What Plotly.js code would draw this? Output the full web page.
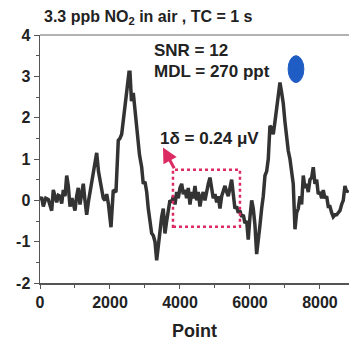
<!DOCTYPE html>
<html><head><meta charset="utf-8">
<script src="https://cdn.plot.ly/plotly-3.0.1.min.js"></script>
<style>html,body{margin:0;padding:0;background:#fff}#c{width:349px;height:343px}</style>
</head><body><div id="c"></div>
<script>
const points = [0,47,94,165,237,285,334,380,430,477,524,571,620,666,715,763,809,857,914,957,1000,1047,1094,1143,1190,1237,1285,1334,1380,1429,1476,1523,1570,1620,1671,1717,1763,1809,1857,1906,1957,2029,2094,2171,2237,2285,2334,2380,2430,2477,2543,2571,2614,2666,2714,2763,2800,2843,2906,2951,3000,3049,3094,3143,3191,3237,3286,3334,3380,3429,3477,3523,3571,3620,3666,3714,3763,3809,3857,3906,3951,4000,4049,4094,4143,4191,4237,4286,4334,4380,4429,4477,4523,4571,4620,4666,4714,4763,4809,4857,4906,4951,5000,5049,5094,5143,5191,5237,5286,5334,5380,5429,5477,5523,5571,5620,5666,5714,5763,5809,5857,5906,5951,6000,6049,6094,6143,6191,6237,6286,6334,6380,6429,6477,6523,6571,6620,6666,6714,6763,6809,6857,6906,6951,7000,7049,7094,7143,7191,7237,7286,7334,7380,7429,7477,7523,7571,7620,7666,7714,7763,7809,7857,7906,7951,8000,8049,8094,8143,8191,8237,8286,8334,8380,8429,8477,8523,8571,8620,8666,8714,8763,8809];
const signal = [0,0.08,-0.15,0.05,0.02,-0.12,-0.25,0.25,0.05,-0.05,0.12,0.1,-0.08,0.25,0.1,0.6,0.35,-0.15,0.05,-0.12,-0.25,0.1,0.3,-0.1,0.15,0.4,0.0,-0.35,-0.05,0.2,0.35,0.65,0.9,1.15,0.7,0.45,0.25,0.05,0,0.15,-0.1,-0.65,0.25,0.2,1.45,1.5,1.6,1.9,2.2,2.6,3.1,3.1,2.4,2.6,2.2,1.8,1.3,1.1,0.8,0.4,0.45,0.2,-0.2,-0.5,-0.8,-0.85,-1.0,-1.45,-1.1,-0.6,-0.4,-0.2,-0.8,-0.5,-0.3,0,-0.05,0.1,-0.1,0.2,0.05,0.3,0.4,0.15,0.25,0.05,0.3,-0.1,0.2,0.05,0.35,0,0.2,-0.15,0.1,0.2,0,0.25,0.4,0.55,0.2,0.05,0.15,-0.05,0.1,-0.2,0.1,0.2,0.35,0.2,0.1,0.3,0.5,0.15,-0.2,-0.15,-0.3,-0.25,-0.4,-0.35,-0.55,-0.5,-0.95,-0.4,0,-0.2,-0.6,-1.3,-1.0,-0.6,-0.2,0.1,0.6,0.7,1.0,1.8,1.75,1.6,1.9,2.2,2.5,2.85,2.6,2.35,1.9,1.45,1.2,1.0,0.7,0.4,-0.7,-0.3,-0.2,0.1,-0.1,0.6,0.3,0.4,0.2,0.5,0.55,0.8,0.4,0.5,0.15,0.2,0.05,0.25,0.05,0.1,-0.15,-0.15,-0.3,-0.4,-0.35,-0.35,-0.3,-0.25,-0.1,0,0.35,0.2,0.25];
const xTicks = [0,2000,4000,6000,8000];
const yTicks = [-2,-1,0,1,2,3,4];
const noiseBox = {x0:3800, x1:5714, y0:-0.64, y1:0.74};

const F = 'Liberation Sans, Arial, sans-serif';
const pink = '#dc2a62';
const trace = {x: points, y: signal, type:'scatter', mode:'lines',
  line:{color:'#333333', width:3.5}, hoverinfo:'skip'};
const layout = {
  width:349, height:343, margin:{l:40,r:0,t:35,b:60},
  paper_bgcolor:'#fff', plot_bgcolor:'#fff', showlegend:false,
  font:{family:F, color:'#222'},
  xaxis:{range:[0,8830], tickvals:xTicks, ticktext:xTicks.map(String), ticks:'outside', ticklen:4, tickcolor:'#555',
    minor:{dtick:1000, tick0:0, ticks:'outside', ticklen:3, tickcolor:'#555'},
    showline:true, linecolor:'#555', linewidth:1.5, showgrid:false, zeroline:false,
    tickfont:{family:F, size:16, color:'#222', weight:'bold'},
    title:{text:'<b>Point</b>', font:{family:F, size:18, color:'#222'}, standoff:14}},
  yaxis:{range:[-2,4], tickvals:yTicks, ticktext:yTicks.map(String), ticks:'outside', ticklen:5, tickcolor:'#555',
    minor:{dtick:0.5, tick0:0, ticks:'outside', ticklen:3, tickcolor:'#555'},
    showline:true, linecolor:'#555', linewidth:1.5, showgrid:false, zeroline:false,
    tickfont:{family:F, size:16, color:'#222', weight:'bold'}},
  shapes:[
    {type:'line', xref:'paper', yref:'paper', x0:0, x1:1, y0:1, y1:1, line:{color:'#999', width:1.5}},
    {type:'rect', xref:'x', yref:'y', x0:noiseBox.x0, x1:noiseBox.x1, y0:noiseBox.y0, y1:noiseBox.y1,
      line:{color:pink, width:2.5, dash:'dot'}},
    {type:'circle', xref:'x', yref:'y', x0:7090, x1:7540, y0:2.85, y1:3.5, fillcolor:'#1f5cc4', line:{color:'#1f5cc4', width:1}}
  ],
  annotations:[
    {xref:'paper', yref:'paper', x:0.006, y:1.069, xanchor:'left', yanchor:'middle', showarrow:false,
      text:'<b>3.3 ppb NO<sub>2</sub> in air , TC = 1 s</b>', font:{family:F, size:16, color:'#222'}},
    {xref:'x', yref:'y', x:3200, y:3.62, xanchor:'left', yanchor:'middle', showarrow:false,
      text:'<b>SNR = 12</b>', font:{family:F, size:17, color:'#222'}},
    {xref:'x', yref:'y', x:3200, y:3.12, xanchor:'left', yanchor:'middle', showarrow:false,
      text:'<b>MDL = 270 ppt</b>', font:{family:F, size:17, color:'#222'}},
    {xref:'x', yref:'y', x:3371, y:1.49, xanchor:'left', yanchor:'middle', showarrow:false,
      text:'<b>1δ = 0.24 μV</b>', font:{family:F, size:17, color:'#222'}},
    {xref:'x', yref:'y', x:3514, y:1.28, axref:'x', ayref:'y', ax:3857, ay:0.74, showarrow:true,
      arrowhead:2, arrowsize:1, arrowwidth:3, arrowcolor:pink, text:''}
  ]
};
Plotly.newPlot('c', [trace], layout, {staticPlot:true, displayModeBar:false});
</script></body></html>
